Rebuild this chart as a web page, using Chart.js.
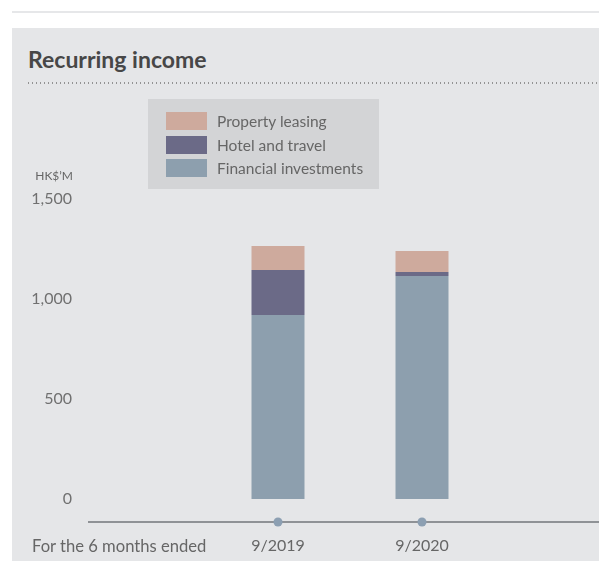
<!DOCTYPE html>
<html>
<head>
<meta charset="utf-8">
<script src="https://cdn.jsdelivr.net/npm/chart.js@4.4.1/dist/chart.umd.min.js"></script>
<style>
  html, body { margin: 0; padding: 0; background: #ffffff; overflow: hidden; width: 599px; height: 561px; font-family: Lato, "Noto Sans", sans-serif; }
  #topline { position: absolute; left: 12px; top: 11px; width: 587px; height: 2px; background: #e6e7e9; }
  #panel { position: absolute; left: 12px; top: 28px; width: 587px; height: 533px; background: #e5e6e8; }
  #title { position: absolute; left: 28px; top: 44px; margin: 0; font-size: 23px; font-weight: 700; color: #474747; line-height: 30px; white-space: nowrap; }
  #dots { position: absolute; left: 28px; top: 82px; width: 571px; height: 2px;
          background-image: linear-gradient(to right, #8a8a8a 0 1.5px, transparent 1.5px 4px); background-size: 4px 2px; opacity: 0.9; }
  #legend { position: absolute; left: 148px; top: 99px; width: 231px; height: 90px; background: #d3d4d6; }
  .row { position: absolute; left: 18px; height: 18px; display: flex; align-items: center; white-space: nowrap; }
  .sw { width: 41px; height: 18px; margin-right: 10px; }
  .lt { font-size: 15.5px; color: #666666; line-height: 18px; }
  #unit { position: absolute; right: calc(599px - 73px); top: 169px; font-size: 12px; color: #666; white-space: nowrap; line-height: 14px; }
  #xlabel { position: absolute; left: 32px; top: 537px; font-size: 16.6px; color: #666; white-space: nowrap; line-height: 18px; }
  #wrap { position: absolute; left: 0; top: 0; width: 599px; height: 561px; }
</style>
</head>
<body>
<div id="topline"></div>
<div id="panel"></div>
<h2 id="title">Recurring income</h2>
<div id="dots"></div>
<div id="wrap"><canvas id="c"></canvas></div>
<div id="legend"></div>
<div id="unit">HK$’M</div>
<div id="xlabel">For the 6 months ended</div>
<script>
// ---- data ----
const categories = ['9/2019', '9/2020'];
const seriesNames = ['Financial investments', 'Hotel and travel', 'Property leasing'];
const financialInvestments = [920, 1115];
const hotelAndTravel = [225, 20];
const propertyLeasing = [120, 105];
const yTicks = [0, 500, 1000, 1500];
const seriesColors = ['#8d9fae', '#6b6a87', '#ceaa9d'];
const seriesValues = [financialInvestments, hotelAndTravel, propertyLeasing];

// ---- legend (top of stack first) ----
const legend = document.getElementById('legend');
[2, 1, 0].forEach((si, row) => {
  const r = document.createElement('div');
  r.className = 'row';
  r.style.top = (13 + row * 23.5) + 'px';
  r.innerHTML = '<div class="sw" style="background:' + seriesColors[si] + '"></div><span class="lt">' + seriesNames[si] + '</span>';
  legend.appendChild(r);
});

Chart.defaults.font.family = 'Lato, "Noto Sans", sans-serif';

const axisPlugin = {
  id: 'axisLine',
  afterDatasetsDraw(chart) {
    const ctx = chart.ctx;
    const x = chart.scales.x;
    const y = chart.chartArea.bottom + 23;
    ctx.save();
    ctx.strokeStyle = '#8f9296';
    ctx.lineWidth = 2;
    ctx.beginPath();
    ctx.moveTo(88, y);
    ctx.lineTo(chart.width, y);
    ctx.stroke();
    ctx.fillStyle = '#8c9fb2';
    categories.forEach((c, i) => {
      ctx.beginPath();
      ctx.arc(x.getPixelForValue(i), y, 4.5, 0, Math.PI * 2);
      ctx.fill();
    });
    ctx.restore();
  }
};

const PAD_LEFT = 0, CHART_LEFT = 206, CHART_RIGHT = 494, CHART_TOP = 199, CHART_BOTTOM = 499;

new Chart(document.getElementById('c'), {
  type: 'bar',
  data: {
    labels: categories,
    datasets: seriesValues.map((vals, i) => ({
      label: seriesNames[i],
      data: vals,
      backgroundColor: seriesColors[i],
      borderWidth: 0,
      categoryPercentage: 1,
      barPercentage: 53 / 144
    }))
  },
  plugins: [axisPlugin],
  options: {
    responsive: true,
    maintainAspectRatio: false,
    animation: false,
    layout: { padding: { left: PAD_LEFT, right: 599 - CHART_RIGHT, top: CHART_TOP, bottom: 0 } },
    plugins: { legend: { display: false }, tooltip: { enabled: false } },
    scales: {
      x: {
        stacked: true,
        grid: { display: false, drawTicks: false },
        border: { display: false },
        ticks: { color: '#666666', font: { size: 16 }, padding: 37 },
        afterFit(scale) { scale.height = 561 - CHART_BOTTOM; scale.paddingLeft = 0; scale.paddingRight = 0; }
      },
      y: {
        stacked: true,
        min: 0,
        max: 1500,
        afterBuildTicks(scale) { scale.ticks = yTicks.map(v => ({ value: v })); },
        grid: { display: false, drawTicks: false },
        border: { display: false },
        ticks: {
          color: '#707070',
          font: { size: 16 },
          padding: CHART_LEFT - 72,
          callback: v => v.toLocaleString('en-US')
        },
        afterFit(scale) { scale.width = CHART_LEFT - PAD_LEFT; scale.paddingTop = 8; scale.paddingBottom = 8; }
      }
    }
  }
});
</script>
</body>
</html>
